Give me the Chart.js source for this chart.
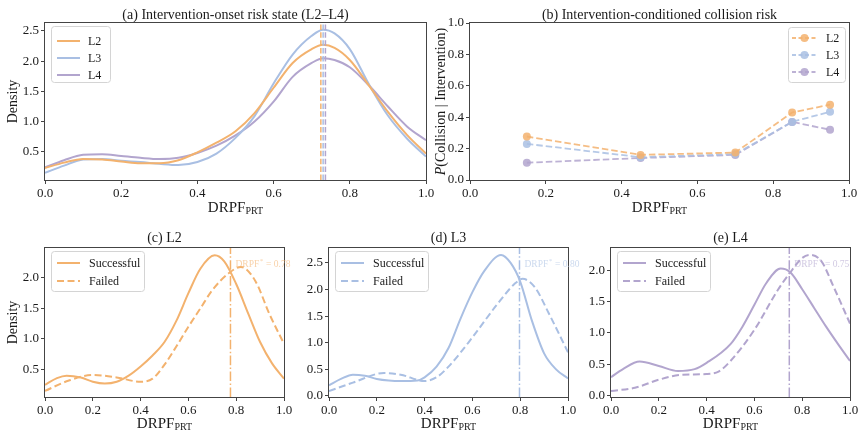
<!DOCTYPE html>
<html><head><meta charset="utf-8">
<script src="https://cdn.jsdelivr.net/npm/chart.js@4.4.0/dist/chart.umd.min.js"></script>
<style>
html,body{margin:0;padding:0;background:#fff;}
#wrap{position:relative;width:865px;height:439px;overflow:hidden;background:#fff;}
canvas{position:absolute;left:0;top:0;}
</style>
</head><body>
<div id="wrap">
<canvas id="ca"></canvas><canvas id="cb"></canvas><canvas id="cc"></canvas><canvas id="cd"></canvas><canvas id="ce"></canvas>
</div>
<script>
// ---------------- DATA ----------------
const levels = ['L2', 'L3', 'L4'];

// (a) KDE of DRPF_PRT at intervention onset
const kdeX = [0,0.05,0.1,0.15,0.2,0.25,0.3,0.35,0.4,0.45,0.5,0.55,0.6,0.65,0.7,0.73,0.76,0.8,0.85,0.9,0.95,1.0];
const kdeL2 = [0.23,0.32,0.38,0.37,0.34,0.31,0.31,0.36,0.49,0.65,0.84,1.14,1.56,1.97,2.20,2.27,2.22,2.02,1.60,1.16,0.78,0.47];
const kdeL3 = [0.15,0.27,0.37,0.38,0.35,0.33,0.30,0.28,0.33,0.47,0.73,1.09,1.63,2.11,2.42,2.52,2.46,2.20,1.62,1.10,0.72,0.42];
const kdeL4 = [0.24,0.36,0.45,0.46,0.43,0.40,0.38,0.40,0.48,0.60,0.77,1.00,1.33,1.74,1.97,2.05,2.02,1.90,1.60,1.25,0.92,0.69];
const medianA = [0.724, 0.730, 0.736];

// (b) conditional collision probability
const binX = [0.15, 0.45, 0.70, 0.85, 0.95];
const pL2 = [0.277, 0.160, 0.175, 0.430, 0.480];
const pL3 = [0.230, 0.145, 0.165, 0.370, 0.435];
const pL4 = [0.110, 0.140, 0.160, 0.370, 0.320];

// (c) L2 successful / failed
const cSuccX = [0,0.05,0.09,0.15,0.2,0.25,0.3,0.35,0.4,0.45,0.5,0.55,0.6,0.65,0.71,0.75,0.8,0.85,0.9,0.95,1.0];
const cSuccY = [0.25,0.36,0.40,0.37,0.30,0.27,0.30,0.40,0.55,0.73,0.95,1.30,1.75,2.15,2.37,2.27,1.90,1.42,0.95,0.60,0.35];
const cFailX = [0,0.1,0.2,0.3,0.4,0.45,0.5,0.55,0.6,0.65,0.7,0.77,0.82,0.88,0.94,1.0];
const cFailY = [0.15,0.32,0.41,0.37,0.30,0.35,0.58,0.88,1.20,1.50,1.80,2.08,2.18,1.95,1.40,0.92];
// (d) L3
const dSuccX = [0,0.05,0.1,0.15,0.2,0.25,0.3,0.37,0.4,0.45,0.5,0.55,0.6,0.65,0.72,0.76,0.8,0.85,0.9,0.95,1.0];
const dSuccY = [0.20,0.32,0.40,0.38,0.32,0.29,0.28,0.29,0.35,0.55,0.90,1.45,1.95,2.35,2.65,2.50,2.15,1.40,0.80,0.50,0.33];
const dFailX = [0,0.1,0.23,0.3,0.4,0.45,0.5,0.6,0.7,0.78,0.81,0.86,0.92,1.0];
const dFailY = [0.09,0.25,0.43,0.40,0.28,0.35,0.55,1.10,1.70,2.12,2.20,2.05,1.55,0.82];
// (e) L4
const eSuccX = [0,0.05,0.12,0.2,0.28,0.35,0.4,0.5,0.55,0.6,0.65,0.71,0.75,0.8,0.85,0.9,0.95,1.0];
const eSuccY = [0.29,0.42,0.54,0.47,0.39,0.42,0.52,0.82,1.10,1.45,1.80,2.03,1.97,1.70,1.40,1.10,0.82,0.55];
const eFailX = [0,0.1,0.2,0.3,0.4,0.45,0.5,0.6,0.7,0.75,0.8,0.83,0.88,0.93,1.0];
const eFailY = [0.07,0.12,0.25,0.33,0.34,0.38,0.55,1.05,1.70,1.97,2.20,2.25,2.15,1.75,1.15];
const thresholds = [0.776, 0.797, 0.746];

// tick labels
const xTicks = [0, 0.2, 0.4, 0.6, 0.8, 1.0];
const yTicksA = [0.5, 1.0, 1.5, 2.0, 2.5];
const yTicksB = [0, 0.2, 0.4, 0.6, 0.8, 1.0];
const yTicksC = [0.5, 1.0, 1.5, 2.0];
const yTicksD = [0, 0.5, 1.0, 1.5, 2.0, 2.5];
const yTicksE = [0, 0.5, 1.0, 1.5, 2.0];

// ---------------- STYLE / LAYOUT ----------------
const W = 865, H = 439, YW = 40, XH = 30;
const FONT = '"Liberation Serif", "Times New Roman", serif';
const COLORS = {L2: '#F3B26E', L3: '#A9BFE3', L4: '#B2A5CE'};
const COLORS_A = {L2: 'rgba(243,178,110,0.85)', L3: 'rgba(169,191,227,0.85)', L4: 'rgba(178,165,206,0.85)'};
const SPINE = '#444';
const TXT = '#1a1a1a';
Chart.defaults.font.family = FONT;

const zip = (xs, ys) => xs.map((x, i) => ({x, y: ys[i]}));

function drawSub(ctx, cx, base, main, sub) {
  ctx.font = `15px ${FONT}`;
  const w1 = ctx.measureText(main).width;
  ctx.font = `10px ${FONT}`;
  const w2 = ctx.measureText(sub).width;
  const s = cx - (w1 + w2) / 2;
  ctx.textAlign = 'left'; ctx.textBaseline = 'alphabetic';
  ctx.font = `15px ${FONT}`; ctx.fillText(main, s, base);
  ctx.font = `10px ${FONT}`; ctx.fillText(sub, s + w1, base + 2);
}

function roundRect(ctx, x, y, w, h, r) {
  ctx.beginPath();
  ctx.moveTo(x + r, y); ctx.lineTo(x + w - r, y); ctx.quadraticCurveTo(x + w, y, x + w, y + r);
  ctx.lineTo(x + w, y + h - r); ctx.quadraticCurveTo(x + w, y + h, x + w - r, y + h);
  ctx.lineTo(x + r, y + h); ctx.quadraticCurveTo(x, y + h, x, y + h - r);
  ctx.lineTo(x, y + r); ctx.quadraticCurveTo(x, y, x + r, y); ctx.closePath();
}

const decor = {
  id: 'decor',
  afterDraw(chart, args, o) {
    const ctx = chart.ctx, a = chart.chartArea;
    ctx.save();
    // spines
    ctx.strokeStyle = SPINE; ctx.lineWidth = 1; ctx.setLineDash([]);
    ctx.strokeRect(Math.round(a.left) - 0.5, Math.round(a.top) - 0.5, Math.round(a.right - a.left) + 1, Math.round(a.bottom - a.top) + 1);
    ctx.fillStyle = TXT;
    // title
    ctx.font = `14px ${FONT}`; ctx.textAlign = 'center'; ctx.textBaseline = 'alphabetic';
    ctx.fillText(o.title, (a.left + a.right) / 2, o.titleY);
    // x label
    drawSub(ctx, (a.left + a.right) / 2, o.xlabelY, 'DRPF', 'PRT');
    // y label
    if (o.ylabel) {
      ctx.save();
      ctx.translate(o.ylabelX, (a.top + a.bottom) / 2);
      ctx.rotate(-Math.PI / 2);
      ctx.textBaseline = 'middle';
      if (o.ylabel === 'P') {
        ctx.font = `italic 14px ${FONT}`;
        const w1 = ctx.measureText('P').width;
        ctx.font = `14px ${FONT}`;
        const rest = '(Collision | Intervention)';
        const w2 = ctx.measureText(rest).width;
        const s = -(w1 + w2) / 2;
        ctx.textAlign = 'left';
        ctx.font = `italic 14px ${FONT}`; ctx.fillText('P', s, 0);
        ctx.font = `14px ${FONT}`; ctx.fillText(rest, s + w1, 0);
      } else {
        ctx.font = `14px ${FONT}`; ctx.textAlign = 'center';
        ctx.fillText(o.ylabel, 0, 0);
      }
      ctx.restore();
    }
    // annotation
    if (o.annot) {
      const xs = chart.scales.x.getPixelForValue(o.annot.x);
      ctx.fillStyle = o.annot.color;
      ctx.textAlign = 'left'; ctx.textBaseline = 'alphabetic';
      ctx.font = `9.5px ${FONT}`;
      const t1 = 'DRPF';
      const w1 = ctx.measureText(t1).width;
      ctx.fillText(t1, xs + 5, a.top + 18.5);
      ctx.font = `7px ${FONT}`;
      ctx.fillText('*', xs + 5 + w1 + 0.5, a.top + 15);
      const w2 = ctx.measureText('*').width;
      ctx.font = `9.5px ${FONT}`;
      ctx.fillText(' = ' + o.annot.x.toFixed(2), xs + 5 + w1 + w2 + 1, a.top + 18.5);
    }
    // legend
    if (o.legend) {
      const L = o.legend;
      const bx = a.left + L.dx, by = a.top + L.dy;
      roundRect(ctx, bx + 0.5, by + 0.5, L.w, L.h, 3);
      ctx.fillStyle = 'rgba(255,255,255,0.85)'; ctx.fill();
      ctx.strokeStyle = '#d4d4d4'; ctx.lineWidth = 1; ctx.stroke();
      L.items.forEach((it, i) => {
        const y = by + L.row0 + i * L.rowH;
        ctx.strokeStyle = it.color; ctx.lineWidth = it.lw || 2;
        ctx.setLineDash(it.dash || []);
        ctx.beginPath(); ctx.moveTo(bx + L.lx0, y); ctx.lineTo(bx + L.lx1, y); ctx.stroke();
        ctx.setLineDash([]);
        if (it.marker) {
          ctx.fillStyle = it.color;
          ctx.beginPath(); ctx.arc(bx + (L.lx0 + L.lx1) / 2, y, 4, 0, Math.PI * 2); ctx.fill();
        }
        ctx.fillStyle = TXT; ctx.font = `12px ${FONT}`; ctx.textAlign = 'left'; ctx.textBaseline = 'middle';
        ctx.fillText(it.label, bx + L.tx, y + 0.5);
      });
    }
    ctx.restore();
  }
};

function scalesFor(yMin, yMax, yTicks) {
  const common = {
    grid: {display: true, drawOnChartArea: false, drawTicks: true, tickLength: 4, color: SPINE, lineWidth: 1},
    border: {display: false},
  };
  return {
    x: Object.assign({}, common, {
      type: 'linear', min: 0, max: 1,
      afterBuildTicks: s => { s.ticks = xTicks.map(v => ({value: v})); },
      afterFit: s => { s.height = XH; },
      ticks: {font: {size: 13, family: FONT}, color: TXT, padding: 2, maxRotation: 0, autoSkip: false, callback: v => Number(v).toFixed(1)}
    }),
    y: Object.assign({}, common, {
      type: 'linear', min: yMin, max: yMax,
      afterBuildTicks: s => { s.ticks = yTicks.map(v => ({value: v})); },
      afterFit: s => { s.width = YW; },
      ticks: {font: {size: 13, family: FONT}, color: TXT, padding: 2, autoSkip: false, callback: v => Number(v).toFixed(1)}
    })
  };
}

function makeChart(id, area, yMin, yMax, yTicks, datasets, deco) {
  const cv = document.getElementById(id);
  cv.width = W; cv.height = H; cv.style.width = W + 'px'; cv.style.height = H + 'px';
  return new Chart(cv, {
    type: 'line',
    data: {datasets},
    options: {
      responsive: false, animation: false, devicePixelRatio: window.devicePixelRatio || 1,
      layout: {padding: {left: area.l - YW, top: area.t, right: W - area.r, bottom: H - area.b - XH}},
      plugins: {legend: {display: false}, tooltip: {enabled: false}, decor: deco},
      scales: scalesFor(yMin, yMax, yTicks),
      elements: {point: {radius: 0}}
    },
    plugins: [decor]
  });
}

function curve(xs, ys, color, dash) {
  return {data: zip(xs, ys), borderColor: color, borderWidth: 2, borderDash: dash || [], pointRadius: 0,
          cubicInterpolationMode: 'monotone', fill: false};
}
function vline(x, yMin, yMax, color, dash, lw) {
  return {data: [{x, y: yMin}, {x, y: yMax}], borderColor: color, borderWidth: lw, borderDash: dash, pointRadius: 0, tension: 0, fill: false};
}

// ---------- (a) ----------
const aMin = 0.032, aMax = 2.632;
const kdeA = [kdeL2, kdeL3, kdeL4];
makeChart('ca', {l: 45, r: 426, t: 23, b: 180}, aMin, aMax, yTicksA,
  [
    ...levels.map((lv, i) => vline(medianA[i], aMin, aMax, COLORS[lv], [5.5, 2.4], 1.5)),
    ...levels.map((lv, i) => curve(kdeX, kdeA[i], COLORS[lv]))
  ],
  {title: '(a) Intervention-onset risk state (L2\u2013L4)', titleY: 19, xlabelY: 212, ylabel: 'Density', ylabelX: 13,
   legend: {dx: 6, dy: 3, w: 59, h: 56, row0: 15, rowH: 17, lx0: 6, lx1: 29, tx: 37,
            items: levels.map(lv => ({label: lv, color: COLORS[lv]}))}});

// ---------- (b) ----------
const pSeries = [pL2, pL3, pL4];
makeChart('cb', {l: 470, r: 849, t: 23, b: 180}, 0, 1, yTicksB,
  levels.map((lv, i) => ({
    data: zip(binX, pSeries[i]), borderColor: COLORS_A[lv], borderWidth: 1.8, borderDash: [6.5, 3],
    pointRadius: 4, pointBackgroundColor: COLORS_A[lv], pointBorderWidth: 0, tension: 0, fill: false
  })),
  {title: '(b) Intervention-conditioned collision risk', titleY: 19, xlabelY: 212, ylabel: 'P', ylabelX: 441,
   legend: {dx: 318, dy: 4, w: 57, h: 55, row0: 11, rowH: 17, lx0: 4, lx1: 29, tx: 38,
            items: levels.map(lv => ({label: lv, color: COLORS_A[lv], dash: [4, 2.5], lw: 1.8, marker: true}))}});

// ---------- (c)(d)(e) ----------
const bottom = [
  {id: 'cc', lv: 'L2', area: {l: 45, r: 284, t: 248, b: 397}, yMin: 0.05, yMax: 2.49, ticks: yTicksC,
   sx: cSuccX, sy: cSuccY, fx: cFailX, fy: cFailY, title: '(c) L2', ylabel: 'Density'},
  {id: 'cd', lv: 'L3', area: {l: 329, r: 568, t: 248, b: 397}, yMin: -0.02, yMax: 2.78, ticks: yTicksD,
   sx: dSuccX, sy: dSuccY, fx: dFailX, fy: dFailY, title: '(d) L3', ylabel: null},
  {id: 'ce', lv: 'L4', area: {l: 611, r: 850, t: 248, b: 397}, yMin: -0.027, yMax: 2.36, ticks: yTicksE,
   sx: eSuccX, sy: eSuccY, fx: eFailX, fy: eFailY, title: '(e) L4', ylabel: null}
];
const annotColors = {L2: 'rgba(243,178,110,0.6)', L3: 'rgba(169,191,227,0.6)', L4: 'rgba(178,165,206,0.6)'};
bottom.forEach((p, i) => {
  const col = COLORS[p.lv];
  makeChart(p.id, p.area, p.yMin, p.yMax, p.ticks,
    [
      vline(thresholds[i], p.yMin, p.yMax, col, [9.6, 2.4, 1.5, 2.4], 1.5),
      curve(p.sx, p.sy, col),
      curve(p.fx, p.fy, col, [7, 3.5])
    ],
    {title: p.title, titleY: 241.5, xlabelY: 428, ylabel: p.ylabel, ylabelX: 13,
     annot: {x: thresholds[i], color: annotColors[p.lv]},
     legend: {dx: 6, dy: 3, w: 93, h: 40, row0: 12, rowH: 18, lx0: 6, lx1: 29, tx: 38,
              items: [{label: 'Successful', color: col}, {label: 'Failed', color: col, dash: [7, 3.5]}]}});
});
</script>
</body></html>
